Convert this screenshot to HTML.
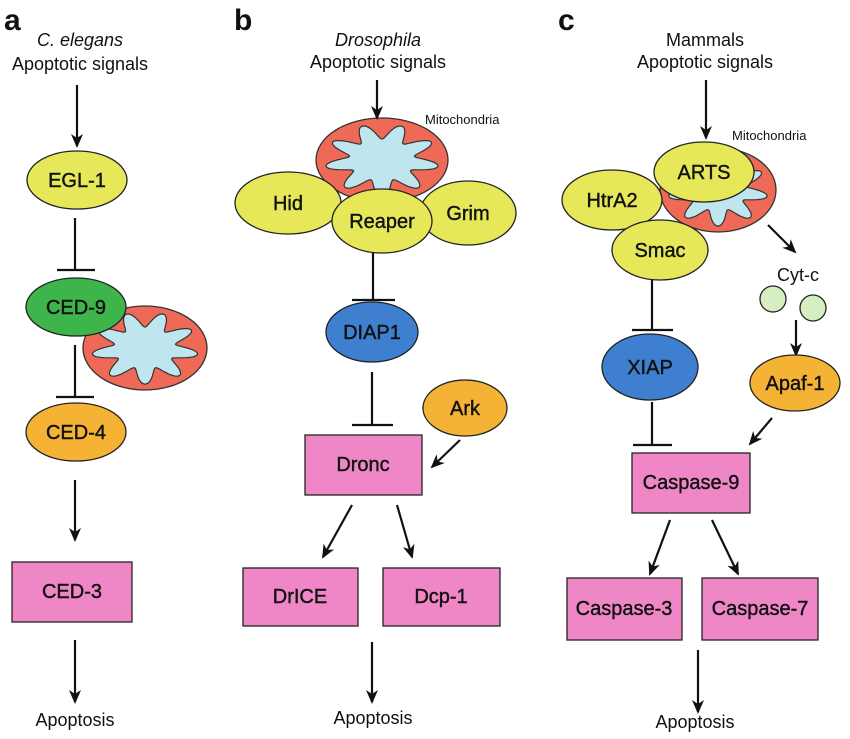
<!DOCTYPE html>
<html><head><meta charset="utf-8"><style>
html,body{margin:0;padding:0;background:#fff;}
svg text{font-family:"Liberation Sans",Arial,sans-serif;}
</style></head><body>
<svg id="s" width="850" height="734" viewBox="0 0 850 734" xmlns="http://www.w3.org/2000/svg">
<defs>
<marker id="ar" markerWidth="14" markerHeight="14" refX="12" refY="7" orient="auto" markerUnits="userSpaceOnUse">
<path d="M0,1 L14,7 L0,13 L4,7 z" fill="#111"/></marker>
</defs>
<g id="mitos"></g>
<g stroke="#111" stroke-width="2.2" fill="none">
<line x1="77" y1="85" x2="77" y2="146" marker-end="url(#ar)"/>
<line x1="75" y1="218" x2="75" y2="270"/><line x1="57" y1="270" x2="95" y2="270"/>
<line x1="75" y1="345" x2="75" y2="397"/><line x1="56" y1="397" x2="94" y2="397"/>
<line x1="75" y1="480" x2="75" y2="540" marker-end="url(#ar)"/>
<line x1="75" y1="640" x2="75" y2="702" marker-end="url(#ar)"/>
<line x1="377" y1="80" x2="377" y2="118" marker-end="url(#ar)"/>
<line x1="373" y1="253" x2="373" y2="300"/><line x1="352" y1="300" x2="395" y2="300"/>
<line x1="372" y1="372" x2="372" y2="425"/><line x1="352" y1="425" x2="393" y2="425"/>
<line x1="460" y1="440" x2="432" y2="467" marker-end="url(#ar)"/>
<line x1="352" y1="505" x2="323" y2="557" marker-end="url(#ar)"/>
<line x1="397" y1="505" x2="412" y2="557" marker-end="url(#ar)"/>
<line x1="372" y1="642" x2="372" y2="702" marker-end="url(#ar)"/>
<line x1="706" y1="80" x2="706" y2="138" marker-end="url(#ar)"/>
<line x1="768" y1="225" x2="795" y2="252" marker-end="url(#ar)"/>
<line x1="796" y1="320" x2="796" y2="355" marker-end="url(#ar)"/>
<line x1="652" y1="280" x2="652" y2="330"/><line x1="632" y1="330" x2="673" y2="330"/>
<line x1="652" y1="402" x2="652" y2="445"/><line x1="633" y1="445" x2="672" y2="445"/>
<line x1="772" y1="418" x2="750" y2="444" marker-end="url(#ar)"/>
<line x1="670" y1="520" x2="650" y2="574" marker-end="url(#ar)"/>
<line x1="712" y1="520" x2="738" y2="574" marker-end="url(#ar)"/>
<line x1="698" y1="650" x2="698" y2="712" marker-end="url(#ar)"/>
</g>
<g stroke="#222" stroke-width="1.3">
<ellipse cx="77" cy="180" rx="50" ry="29" fill="#e6e85a"/>
<ellipse cx="76" cy="307" rx="50" ry="29" fill="#3db54a"/>
<ellipse cx="76" cy="432" rx="50" ry="29" fill="#f5b335"/>
<rect x="12" y="562" width="120" height="60" fill="#ef86c6"/>
<ellipse cx="288" cy="203" rx="53" ry="31" fill="#e6e85a"/>
<ellipse cx="468" cy="213" rx="48" ry="32" fill="#e6e85a"/>
<ellipse cx="382" cy="221" rx="50" ry="32" fill="#e6e85a"/>
<ellipse cx="372" cy="332" rx="46" ry="30" fill="#3f7fd0"/>
<ellipse cx="465" cy="408" rx="42" ry="28" fill="#f5b335"/>
<rect x="305" y="435" width="117" height="60" fill="#ef86c6"/>
<rect x="243" y="568" width="115" height="58" fill="#ef86c6"/>
<rect x="383" y="568" width="117" height="58" fill="#ef86c6"/>
<ellipse cx="612" cy="200" rx="50" ry="30" fill="#e6e85a"/>
<ellipse cx="704" cy="172" rx="50" ry="30" fill="#e6e85a"/>
<ellipse cx="660" cy="250" rx="48" ry="30" fill="#e6e85a"/>
<circle cx="773" cy="299" r="13" fill="#d5efc0"/>
<circle cx="813" cy="308" r="13" fill="#d5efc0"/>
<ellipse cx="795" cy="383" rx="45" ry="28" fill="#f5b335"/>
<ellipse cx="650" cy="367" rx="48" ry="33" fill="#3f7fd0"/>
<rect x="632" y="453" width="118" height="60" fill="#ef86c6"/>
<rect x="567" y="578" width="115" height="62" fill="#ef86c6"/>
<rect x="702" y="578" width="116" height="62" fill="#ef86c6"/>
</g>
<g font-size="20" text-anchor="middle" fill="#111" dominant-baseline="central" stroke="#111" stroke-width="0.4">
<text x="77" y="181">EGL-1</text><text x="76" y="308">CED-9</text><text x="76" y="433">CED-4</text>
<text x="72" y="592">CED-3</text>
<text x="288" y="204">Hid</text><text x="468" y="214">Grim</text><text x="382" y="222">Reaper</text>
<text x="372" y="333">DIAP1</text><text x="465" y="409">Ark</text><text x="363" y="465">Dronc</text>
<text x="300" y="597">DrICE</text><text x="441" y="597">Dcp-1</text>
<text x="612" y="201">HtrA2</text><text x="704" y="173">ARTS</text><text x="660" y="251">Smac</text>
<text x="650" y="368">XIAP</text><text x="795" y="384">Apaf-1</text><text x="691" y="483">Caspase-9</text>
<text x="624" y="609">Caspase-3</text><text x="760" y="609">Caspase-7</text>
</g>
<g font-size="18" text-anchor="middle" fill="#111">
<text x="80" y="46" font-style="italic">C. elegans</text><text x="80" y="70">Apoptotic signals</text>
<text x="378" y="46" font-style="italic">Drosophila</text><text x="378" y="68">Apoptotic signals</text>
<text x="705" y="46">Mammals</text><text x="705" y="68">Apoptotic signals</text>
<text x="75" y="726">Apoptosis</text><text x="373" y="724">Apoptosis</text><text x="695" y="728">Apoptosis</text>
<text x="798" y="281">Cyt-c</text>
</g>
<g font-size="13" fill="#111"><text x="425" y="124">Mitochondria</text><text x="732" y="140">Mitochondria</text></g>
<g font-size="30" font-weight="bold" fill="#111"><text x="4" y="30">a</text><text x="234" y="30">b</text><text x="558" y="30">c</text></g>
</svg>
<script>
(function(){
var g=document.getElementById('mitos');var ns='http://www.w3.org/2000/svg';
function mito(cx,cy,rx,ry){
 var e=document.createElementNS(ns,'ellipse');
 e.setAttribute('cx',cx);e.setAttribute('cy',cy);e.setAttribute('rx',rx);e.setAttribute('ry',ry);
 e.setAttribute('fill','#ee6a57');e.setAttribute('stroke','#333');e.setAttribute('stroke-width','1.3');g.appendChild(e);
 var d='';for(var i=0;i<=240;i++){var t=i/240*2*Math.PI;var k=0.68+0.18*Math.sin(9*t);
 var x=cx+rx*k*Math.cos(t),y=cy+ry*k*Math.sin(t);d+=(i?'L':'M')+x.toFixed(1)+','+y.toFixed(1);}
 var p=document.createElementNS(ns,'path');p.setAttribute('d',d+'Z');p.setAttribute('fill','#bfe6ee');
 p.setAttribute('stroke','#333');p.setAttribute('stroke-width','1.2');g.appendChild(p);}
mito(145,348,62,42);mito(382,160,66,42);mito(718,190,58,42);
})();
</script>
</body></html>
